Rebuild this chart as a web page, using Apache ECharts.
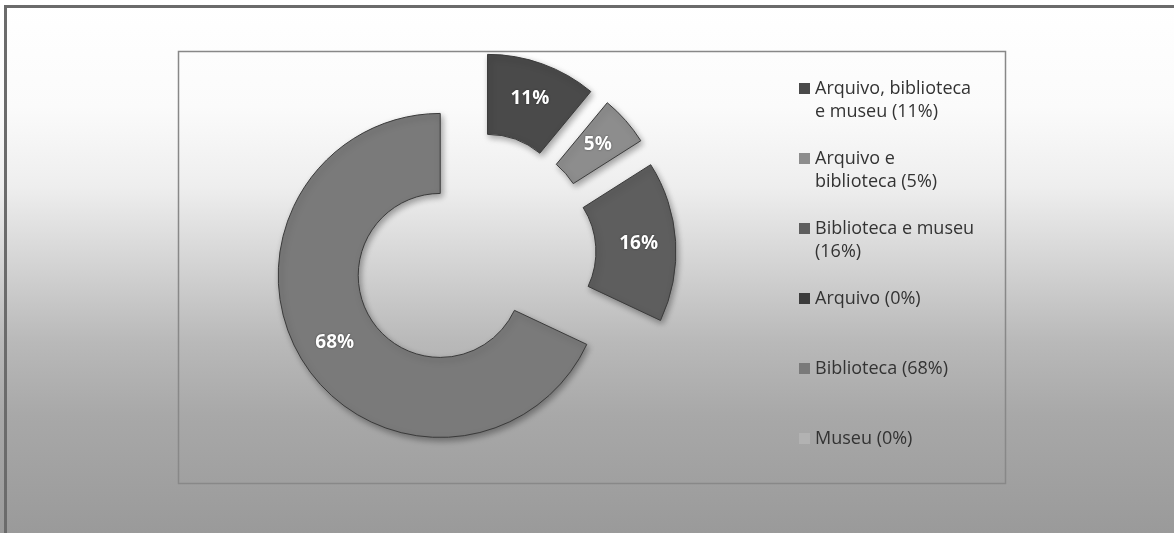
<!DOCTYPE html>
<html>
<head>
<meta charset="utf-8">
<script src="https://cdn.jsdelivr.net/npm/echarts@6/dist/echarts.min.js"></script>
<style>
    html, body { margin: 0; padding: 0; background: #efefef; }
    #main {
        width: 1174px; height: 533px;
        background: linear-gradient(to bottom, #ffffff 0%, #fbfbfb 20%, #eeeeee 35%, #d3d3d3 50%, #b9b9b9 64%, #a8a8a8 78%, #9a9a9a 100%);
    }
</style>
</head>
<body>
<div id="main"></div>
<script>
// tipos de acervo e participação (%)
var categories = ['Arquivo, biblioteca e museu', 'Arquivo e biblioteca', 'Biblioteca e museu', 'Arquivo', 'Biblioteca', 'Museu'];
var values = [11, 5, 16, 0, 68, 0];
var legendLabels = [
    'Arquivo, biblioteca\ne museu (11%)',
    'Arquivo e\nbiblioteca (5%)',
    'Biblioteca e museu\n(16%)',
    'Arquivo (0%)',
    'Biblioteca (68%)',
    'Museu (0%)'
];

var myChart = echarts.init(document.getElementById('main'));

var pieData = [];
for (var i = 0; i < categories.length; i++) {
    var item = {name: categories[i], value: values[i], selected: values[i] > 0};
    if (values[i] === 0) {
        // fatias vazias: nada a desenhar
        item.label = {show: false};
        item.itemStyle = {borderWidth: 0, shadowBlur: 0, shadowColor: 'rgba(0,0,0,0)'};
    }
    pieData.push(item);
}

var option = {
    backgroundColor: 'transparent',
    animation: false,
    color: ['#4a4a4a', '#8d8d8d', '#5e5e5e', '#3c3c3c', '#7a7a7a', '#b2b2b2'],
    graphic: [
        // moldura externa
        {
            type: 'rect',
            shape: {x: 5.5, y: 6.5, width: 1200, height: 600},
            style: {fill: null, stroke: '#6b6b6b', lineWidth: 3},
            silent: true
        },
        // área de plotagem
        {
            type: 'rect',
            shape: {x: 178.5, y: 51.5, width: 827, height: 432},
            style: {fill: null, stroke: '#888888', lineWidth: 1.5},
            silent: true
        }
    ],
    legend: {
        orient: 'vertical',
        left: 799,
        top: 54,
        padding: 0,
        itemGap: 1,
        itemWidth: 11,
        itemHeight: 11,
        icon: 'rect',
        selectedMode: false,
        data: categories,
        formatter: function (name) {
            var t = legendLabels[categories.indexOf(name)];
            return '\n' + t + (t.indexOf('\n') < 0 ? '\n' : '');
        },
        textStyle: {
            color: '#333333',
            fontSize: 18,
            lineHeight: 23,
            fontFamily: 'Open Sans'
        },
        itemStyle: {borderWidth: 0}
    },
    series: [
        {
            name: 'Acervo',
            type: 'pie',
            center: [474, 254],
            radius: [82, 162],
            startAngle: 90,
            clockwise: true,
            avoidLabelOverlap: false,
            selectedMode: 'multiple',
            selectedOffset: 40,
            itemStyle: {
                borderColor: '#3a3a3a',
                borderWidth: 1,
                shadowBlur: 6,
                shadowOffsetX: 2,
                shadowOffsetY: 3,
                shadowColor: 'rgba(0,0,0,0.35)'
            },
            select: {
                itemStyle: {
                    borderColor: '#3a3a3a',
                    borderWidth: 1
                }
            },
            emphasis: {disabled: true},
            label: {
                show: true,
                position: 'inside',
                formatter: '{c}%',
                color: '#ffffff',
                fontSize: 19,
                fontWeight: 'bold',
                fontFamily: 'Open Sans',
                textShadowColor: 'rgba(0,0,0,0.5)',
                textShadowBlur: 2
            },
            labelLine: {show: false},
            data: pieData
        }
    ]
};
myChart.setOption(option);
</script>
</body>
</html>
